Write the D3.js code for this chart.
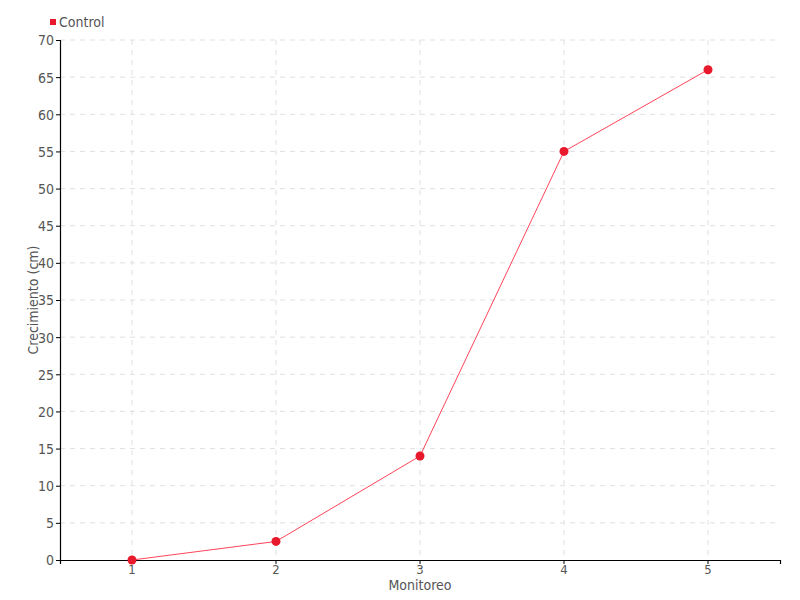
<!DOCTYPE html>
<html><head><meta charset="utf-8">
<script src="https://cdn.jsdelivr.net/npm/d3@7"></script>
<style>
body{margin:0;background:#fff;}
text{font-family:"DejaVu Sans Condensed","Liberation Sans Narrow","Roboto",sans-serif;fill:#555;}
</style></head>
<body><svg id="c" width="800" height="600"></svg>
<script>
const categories = ["1","2","3","4","5"];
const values = [0, 2.5, 14, 55, 66];
const yTicks = [0,5,10,15,20,25,30,35,40,45,50,55,60,65,70];
const seriesName = "Control";

const svg = d3.select("#c");
const m = {l:60, r:20, t:40, b:40};
const W = 800, H = 600;
const x = d3.scaleBand().domain(categories).range([m.l, W-m.r]);
const y = d3.scaleLinear().domain([0,70]).range([H-m.b, m.t]);
const cx = d => x(d) + x.bandwidth()/2;

// grid
const g = svg.append("g");
g.selectAll(".hg").data(yTicks.slice(1)).join("line")
  .attr("x1", m.l).attr("x2", W-m.r).attr("y1", d=>y(d)).attr("y2", d=>y(d))
  .attr("stroke","#e0e0e0").attr("stroke-dasharray","5,5");
g.selectAll(".vg").data(categories).join("line")
  .attr("x1", d=>cx(d)).attr("x2", d=>cx(d)).attr("y1", m.t).attr("y2", H-m.b)
  .attr("stroke","#e0e0e0").attr("stroke-dasharray","5,5");

// axes
const yAxis = svg.append("g").attr("transform",`translate(${m.l},0)`)
  .call(d3.axisLeft(y).tickValues(yTicks).tickSize(4).tickPadding(2));
const xAxis = svg.append("g").attr("transform",`translate(0,${H-m.b})`)
  .call(d3.axisBottom(x).tickSize(4).tickPadding(1));
[yAxis,xAxis].forEach(a=>{
  a.select(".domain").attr("stroke","#000").attr("stroke-width",1.2);
  a.selectAll(".tick line").attr("stroke","#000");
  a.selectAll("text").attr("font-size",14).attr("fill","#555")
   .style("font-family",'"DejaVu Sans Condensed","Liberation Sans Narrow",sans-serif');
});
yAxis.selectAll(".tick text").attr("dy","0.35em");
xAxis.selectAll(".tick text").attr("font-size",13).attr("dy","0.7em");

// line
const line = d3.line().x((d,i)=>cx(categories[i])).y(d=>y(d));
svg.append("path").datum(values).attr("d", line)
  .attr("fill","none").attr("stroke","#ff4458").attr("stroke-width",1);
svg.selectAll(".pt").data(values).join("circle")
  .attr("cx",(d,i)=>cx(categories[i])).attr("cy",d=>y(d)).attr("r",4.5)
  .attr("fill","#e8192c");

// labels
svg.append("text").attr("x",(m.l+W-m.r)/2).attr("y",590).attr("text-anchor","middle")
  .attr("font-size",14).text("Monitoreo");
svg.append("text").attr("transform","translate(38,300) rotate(-90)").attr("text-anchor","middle")
  .attr("font-size",14).text("Crecimiento (cm)");

// legend
svg.append("rect").attr("x",50).attr("y",19).attr("width",6).attr("height",6).attr("fill","#e8192c");
svg.append("text").attr("x",59).attr("y",27).attr("font-size",14).text(seriesName);
</script></body></html>
